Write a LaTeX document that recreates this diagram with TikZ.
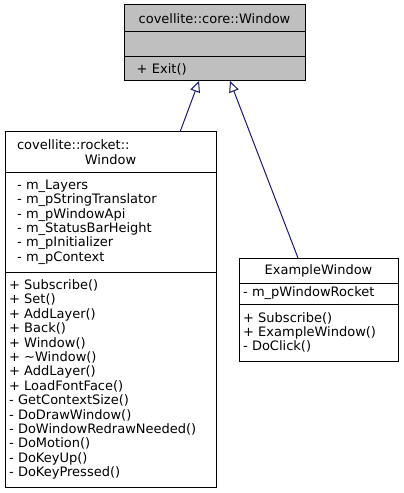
\documentclass[tikz,border=0pt]{standalone}
\usepackage{fontspec}
\setmainfont{DejaVu Sans}
\usepackage{xcolor}
\usetikzlibrary{arrows.meta,positioning}
\definecolor{azulEscuro}{HTML}{191970}
\definecolor{cinzaAtual}{HTML}{BFBFBF}
\tikzset{
    compartimento/.style={
        rectangle,
        draw=black,
        line width=1bp,
        anchor=north west,
        inner ysep=0pt,
        outer sep=0pt,
        font=\fontsize{13bp}{14.4bp}\selectfont
    },
    titulo/.style={compartimento, align=center},
    membros/.style={compartimento, align=left},
    atual/.style={fill=cinzaAtual},
    heranca/.style={
        draw=azulEscuro,
        line width=1bp,
        -{Triangle[open, length=11bp, width=10bp, fill=white]}
    }
}

\begin{document}
\begin{tikzpicture}[x=1bp, y=-1bp]
    \useasboundingbox (0,0) rectangle (403,493);

    % classe base
    \node[titulo, atual, minimum width=181bp, minimum height=27bp, text width=170bp] (nucleoTitulo)
        at (124,5) {covellite::core::Window};
    \node[membros, atual, minimum width=181bp, minimum height=25bp] (nucleoAtrib)
        at (nucleoTitulo.south west) {};
    \node[membros, atual, minimum width=181bp, minimum height=24bp, inner xsep=12.7bp, text width=155.6bp] (nucleoMetodos)
        at (nucleoAtrib.south west) {+ Exit()};

    % covellite::rocket::Window
    \node[membros, minimum width=211bp, minimum height=40bp, inner xsep=12bp, text width=187bp] (rocketTitulo)
        at (5,132) {covellite::rocket::\\\makebox[187bp][c]{Window}};
    \node[membros, minimum width=211bp, minimum height=100bp, inner xsep=12bp, text width=187bp] (rocketAtrib)
        at (rocketTitulo.south west)
        {- m\_Layers\\- m\_pStringTranslator\\- m\_pWindowApi\\- m\_StatusBarHeight\\- m\_pInitializer\\- m\_pContext};
    \node[membros, minimum width=211bp, minimum height=215bp, inner xsep=4bp, text width=203bp] (rocketMetodos)
        at (rocketAtrib.south west)
        {+ Subscribe()\\+ Set()\\+ AddLayer()\\+ Back()\\+ Window()\\+ \textasciitilde Window()\\+ AddLayer()\\+ LoadFontFace()\\- GetContextSize()\\- DoDrawWindow()\\- DoWindowRedrawNeeded()\\- DoMotion()\\- DoKeyUp()\\- DoKeyPressed()};

    % ExampleWindow
    \node[titulo, minimum width=159bp, minimum height=25bp, text width=151bp] (exemploTitulo)
        at (239,258) {ExampleWindow};
    \node[membros, minimum width=159bp, minimum height=21bp, inner xsep=4bp, text width=151bp] (exemploAtrib)
        at (exemploTitulo.south west) {- m\_pWindowRocket};
    \node[membros, minimum width=159bp, minimum height=57bp, inner xsep=4bp, text width=151bp] (exemploMetodos)
        at (exemploAtrib.south west) {+ Subscribe()\\+ ExampleWindow()\\- DoClick()};

    \draw[heranca] ([xshift=69.5bp]rocketTitulo.north) -- ([xshift=-15.5bp]nucleoMetodos.south);
    \draw[heranca] ([xshift=-20.5bp]exemploTitulo.north) -- ([xshift=15.5bp]nucleoMetodos.south);
\end{tikzpicture}
\end{document}
